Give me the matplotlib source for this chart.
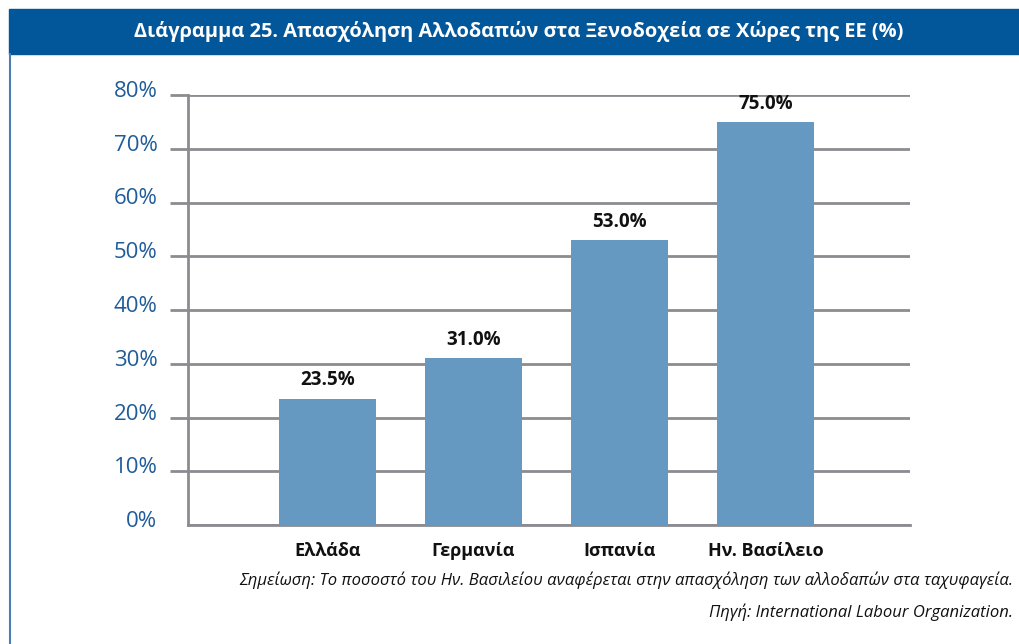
import matplotlib
matplotlib.use("Agg")
import matplotlib.pyplot as plt
from matplotlib.patches import Rectangle
from matplotlib.lines import Line2D
from matplotlib.transforms import ScaledTranslation

categories = ["Ελλάδα", "Γερμανία", "Ισπανία", "Ην. Βασίλειο"]
values = [23.5, 31.0, 53.0, 75.0]
value_labels = ["23.5%", "31.0%", "53.0%", "75.0%"]
yticks = [0, 10, 20, 30, 40, 50, 60, 70, 80]
ytick_labels = ["0%", "10%", "20%", "30%", "40%", "50%", "60%", "70%", "80%"]
title = "Διάγραμμα 25. Απασχόληση Αλλοδαπών στα Ξενοδοχεία σε Χώρες της ΕΕ (%)"
note = "Σημείωση: Το ποσοστό του Ην. Βασιλείου αναφέρεται στην απασχόληση των αλλοδαπών στα ταχυφαγεία."
source = "Πηγή: International Labour Organization."

plt.rcParams['font.family'] = ['Open Sans', 'DejaVu Sans']

W, H = 1019, 644
fig = plt.figure(figsize=(W/100, H/100), dpi=100)

def fx(px): return px / W
def fy(py): return 1 - py / H

# title bar
fig.patches.append(Rectangle((fx(9), fy(54)), fx(1019) - fx(9), fy(9) - fy(54),
                             transform=fig.transFigure, color="#02569A", zorder=0))
fig.text(fx(519), fy(31.5), title, color="white", fontsize=14.4, fontweight="bold",
         ha="center", va="center")
# left border
fig.lines.append(Line2D([fx(10), fx(10)], [fy(54), 0], transform=fig.transFigure,
                        color="#4a7fb5", lw=1.5))

ax = fig.add_axes([fx(188), fy(525), fx(910) - fx(188), fy(95) - fy(525)])
x = list(range(len(categories)))
ax.bar(x, values, width=0.664, color="#6699C2", zorder=3)
ax.set_xlim(-0.955, 3.99)
ax.set_ylim(0, 80)
ax.set_yticks(yticks)
ax.set_yticklabels(ytick_labels, color="#1F5C99", fontsize=16)
ax.tick_params(axis="y", length=13, width=2, color="#8C8C90", pad=9)
ax.tick_params(axis="x", length=0, pad=12)
ax.set_xticks(x)
ax.set_xticklabels(categories, fontsize=13, fontweight="bold", color="#111111")
ax.grid(axis="y", color="#8C8C90", lw=2, zorder=1)
for s in ["top", "right"]:
    ax.spines[s].set_visible(False)
ax.spines["left"].set_color("#8C8C90")
ax.spines["left"].set_linewidth(2)
ax.spines["bottom"].set_color("#8C8C90")
ax.spines["bottom"].set_linewidth(2)
ax.yaxis.get_major_ticks()[0].tick1line.set_visible(False)
shift = ScaledTranslation(0, 6/100, fig.dpi_scale_trans)
for lab in ax.get_yticklabels():
    lab.set_transform(lab.get_transform() + shift)
for xi, v, lab in zip(x, values, value_labels):
    ax.annotate(lab, (xi, v), xytext=(0, 6), textcoords="offset points",
                ha="center", va="bottom", fontsize=13.5, fontweight="bold", color="#111111")

fig.text(fx(1013), fy(580), note, fontsize=12, style="italic", ha="right", va="center", color="#111111")
fig.text(fx(1013), fy(612), source, fontsize=12, style="italic", ha="right", va="center", color="#111111")

fig.savefig("out.png", dpi=100)
